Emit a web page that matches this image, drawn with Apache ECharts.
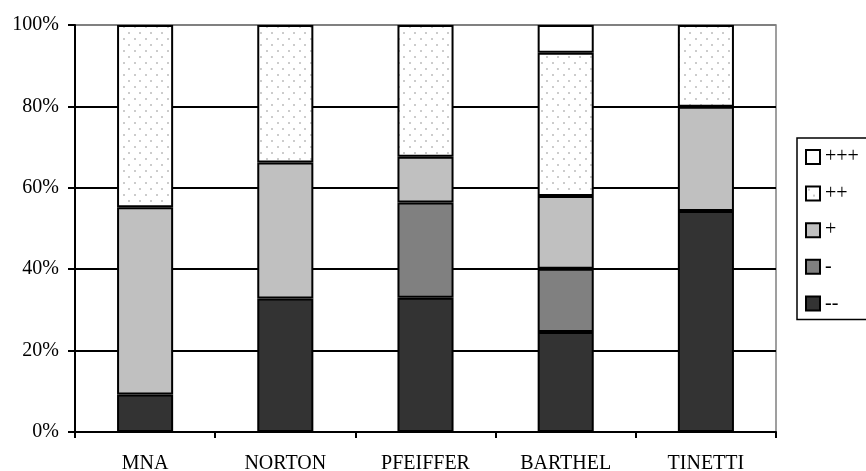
<!DOCTYPE html>
<html>
<head>
<meta charset="utf-8">
<script src="https://cdn.jsdelivr.net/npm/echarts@6/dist/echarts.min.js"></script>
<style>
  html, body { margin: 0; padding: 0; background: #fff; }
  #chart { width: 866px; height: 471px; }
</style>
</head>
<body>
<div id="chart"></div>
<script>
// Assessment scales on the x axis
const categories = ['MNA', 'NORTON', 'PFEIFFER', 'BARTHEL', 'TINETTI'];

// Share (%) of each rating level per scale, stacked bottom to top
const vMinusMinus = [9.2, 32.8, 33.0, 24.6, 54.3];
const vMinus      = [0,   0,    23.4, 15.5, 0];
const vPlus       = [46.0, 33.4, 11.2, 17.9, 25.6];
const vPlusPlus   = [44.8, 33.8, 32.4, 35.2, 20.1];
const vPlusPlusPlus = [0, 0, 0, 6.8, 0];

const yTicks = [0, 20, 40, 60, 80, 100];

// Light dotted fill for the "++" level
function dotPattern() {
  const c = document.createElement('canvas');
  c.width = 11; c.height = 12;
  const g = c.getContext('2d');
  g.fillStyle = '#ffffff';
  g.fillRect(0, 0, 11, 12);
  g.fillStyle = '#cccccc';
  g.fillRect(2, 2, 2, 2);
  g.fillRect(7, 8, 2, 2);
  return c;
}

const font = '"Liberation Serif", "Times New Roman", serif';
const border = { borderColor: '#000', borderWidth: 2 };

// Empty segments are skipped so they leave no outline behind
function bar(name, values, color) {
  return {
    name: name,
    type: 'bar',
    stack: 'total',
    barWidth: '40%',
    data: values.map(function (v) { return v > 0 ? v : null; }),
    itemStyle: Object.assign({ color: color }, border),
    emphasis: { disabled: true }
  };
}

const chart = echarts.init(document.getElementById('chart'), null, { renderer: 'canvas' });
chart.setOption({
  animation: false,
  backgroundColor: '#fff',
  grid: {
    left: 75, right: 90, top: 25, bottom: 39,
    outerBoundsMode: 'none',
    containLabel: false,
    show: true, borderColor: '#808080', borderWidth: 1.5, backgroundColor: 'transparent'
  },
  legend: {
    orient: 'vertical',
    left: 797, top: 138,
    padding: [9, 60, 6, 8],
    itemWidth: 14, itemHeight: 14, itemGap: 16.6,
    borderColor: '#000', borderWidth: 1.5,
    icon: 'rect',
    data: ['+++', '++', '+', '-', '--'],
    textStyle: { fontFamily: font, fontSize: 20, lineHeight: 20, color: '#000' }
  },
  xAxis: {
    type: 'category',
    data: categories,
    axisLine: { lineStyle: { color: '#000', width: 2 } },
    axisTick: { show: true, length: 6, lineStyle: { color: '#000', width: 2 } },
    axisLabel: { fontFamily: font, fontSize: 20, color: '#000', margin: 22 },
    splitLine: { show: false }
  },
  yAxis: {
    type: 'value',
    min: 0, max: 100, interval: 20,
    axisLine: { show: true, lineStyle: { color: '#000', width: 2 } },
    axisTick: { show: true, length: 7, lineStyle: { color: '#000', width: 2 } },
    axisLabel: {
      fontFamily: font, fontSize: 20, color: '#000', margin: 16,
      formatter: function (v) { return yTicks.indexOf(v) >= 0 ? v + '%' : ''; }
    },
    splitLine: {
      show: true,
      lineStyle: { color: ['#000', '#000', '#000', '#000', '#000', '#808080'], width: 2 }
    }
  },
  series: [
    bar('--', vMinusMinus, '#333333'),
    bar('-', vMinus, '#808080'),
    bar('+', vPlus, '#c0c0c0'),
    bar('++', vPlusPlus, { image: dotPattern(), repeat: 'repeat' }),
    bar('+++', vPlusPlusPlus, '#ffffff')
  ]
});
</script>
</body>
</html>
